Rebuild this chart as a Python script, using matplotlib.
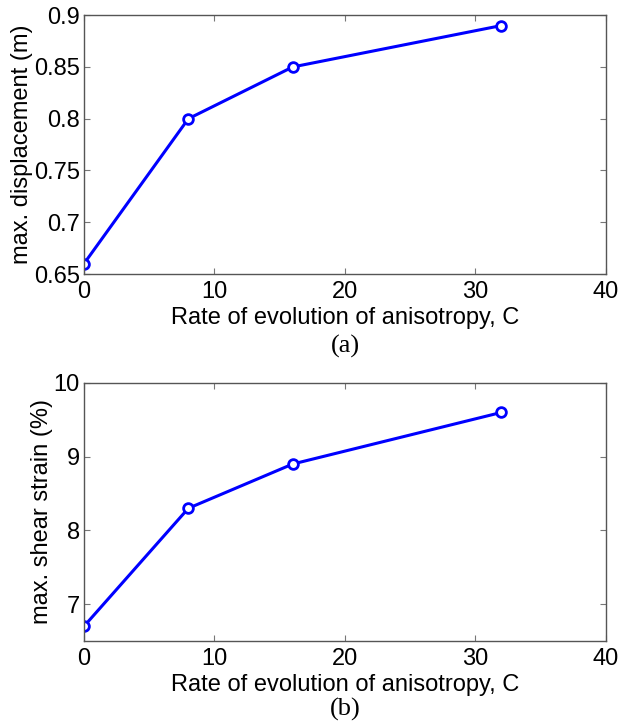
import matplotlib
matplotlib.use("Agg")
from matplotlib import pyplot as plt

C = [0, 8, 16, 32]
disp = [0.66, 0.80, 0.85, 0.89]
strain = [6.7, 8.3, 8.9, 9.6]

xticks = [0, 10, 20, 30, 40]
disp_ticks = [0.65, 0.7, 0.75, 0.8, 0.85, 0.9]
disp_labels = ["0.65", "0.7", "0.75", "0.8", "0.85", "0.9"]
strain_ticks = [7, 8, 9, 10]
strain_labels = ["7", "8", "9", "10"]

plt.rcParams['font.family'] = ['Liberation Sans', 'DejaVu Sans']
plt.rcParams['font.size'] = 17

fig = plt.figure(figsize=(6.19, 7.23), dpi=100)
ax1 = fig.add_axes([0.1357, 0.621, 0.843, 0.358])
ax2 = fig.add_axes([0.1357, 0.1134, 0.843, 0.357])


def style(ax):
    for s in ax.spines.values():
        s.set_color("#555555")
        s.set_linewidth(1.0)
    ax.tick_params(direction="in", length=4, width=0.8, color="#777777",
                   top=True, right=True, labelsize=17)
    ax.tick_params(axis="x", pad=5)
    ax.tick_params(axis="y", pad=3)
    ax.set_xlim(0, 40)
    ax.set_xticks(xticks)
    ax.set_xlabel("Rate of evolution of anisotropy, C", fontsize=17, labelpad=3)


ax1.plot(C, disp, color="#0000ff", lw=2.2, marker="o", ms=7,
         mfc="white", mec="#0000ff", mew=2)
style(ax1)
ax1.set_ylim(0.65, 0.9)
ax1.set_yticks(disp_ticks)
ax1.set_yticklabels(disp_labels)
ax1.set_ylabel("max. displacement (m)", fontsize=17, labelpad=0.5)

ax2.plot(C, strain, color="#0000ff", lw=2.2, marker="o", ms=7,
         mfc="white", mec="#0000ff", mew=2)
style(ax2)
ax2.set_ylim(6.5, 10)
ax2.set_yticks(strain_ticks)
ax2.set_yticklabels(strain_labels)
ax2.set_ylabel("max. shear strain (%)", fontsize=17, labelpad=0.5)

fig.text(0.5574, 1 - 346 / 723, "(a)", ha="center", va="center",
         family="Liberation Serif", fontsize=19)
fig.text(0.5574, 1 - 709 / 723, "(b)", ha="center", va="center",
         family="Liberation Serif", fontsize=19)

fig.savefig("out.png", dpi=100)
